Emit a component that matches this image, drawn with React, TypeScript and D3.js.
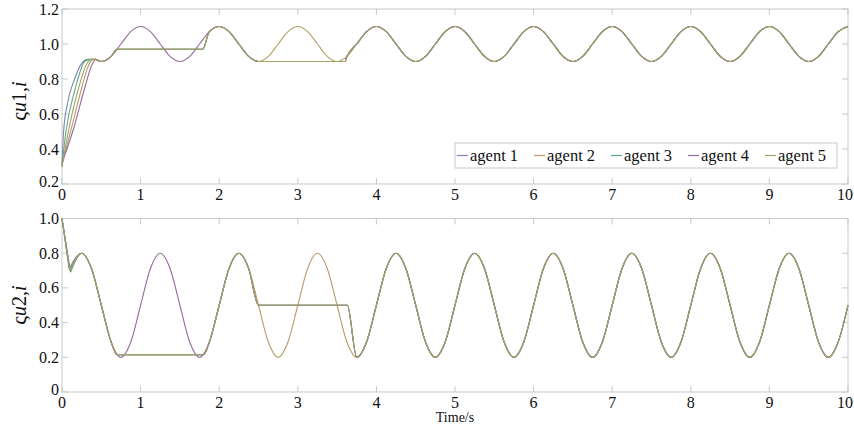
import React from 'react';
import * as d3 from 'd3';

const W = 854;
const H = 430;

const AGENTS = ['agent 1', 'agent 2', 'agent 3', 'agent 4', 'agent 5'];
const COLORS = ['#7c88ad', '#b89d68', '#5fa98c', '#96699f', '#a5a263'];

// Steady-state tracking signals, sampled every WAVE_STEP seconds from t = 0 to t = 10
const WAVE_STEP = 0.125;
const U1_WAVE = [
  1.1, 1.071, 1.0, 0.929, 0.9, 0.929, 1.0, 1.071,
  1.1, 1.071, 1.0, 0.929, 0.9, 0.929, 1.0, 1.071,
  1.1, 1.071, 1.0, 0.929, 0.9, 0.929, 1.0, 1.071,
  1.1, 1.071, 1.0, 0.929, 0.9, 0.929, 1.0, 1.071,
  1.1, 1.071, 1.0, 0.929, 0.9, 0.929, 1.0, 1.071,
  1.1, 1.071, 1.0, 0.929, 0.9, 0.929, 1.0, 1.071,
  1.1, 1.071, 1.0, 0.929, 0.9, 0.929, 1.0, 1.071,
  1.1, 1.071, 1.0, 0.929, 0.9, 0.929, 1.0, 1.071,
  1.1, 1.071, 1.0, 0.929, 0.9, 0.929, 1.0, 1.071,
  1.1, 1.071, 1.0, 0.929, 0.9, 0.929, 1.0, 1.071,
  1.1,
];
const U2_WAVE = [
  0.5, 0.712, 0.8, 0.712, 0.5, 0.288, 0.2, 0.288,
  0.5, 0.712, 0.8, 0.712, 0.5, 0.288, 0.2, 0.288,
  0.5, 0.712, 0.8, 0.712, 0.5, 0.288, 0.2, 0.288,
  0.5, 0.712, 0.8, 0.712, 0.5, 0.288, 0.2, 0.288,
  0.5, 0.712, 0.8, 0.712, 0.5, 0.288, 0.2, 0.288,
  0.5, 0.712, 0.8, 0.712, 0.5, 0.288, 0.2, 0.288,
  0.5, 0.712, 0.8, 0.712, 0.5, 0.288, 0.2, 0.288,
  0.5, 0.712, 0.8, 0.712, 0.5, 0.288, 0.2, 0.288,
  0.5, 0.712, 0.8, 0.712, 0.5, 0.288, 0.2, 0.288,
  0.5, 0.712, 0.8, 0.712, 0.5, 0.288, 0.2, 0.288,
  0.5,
];

// Initial transients of each agent, [t, value]
const U1_HEAD: [number, number][][] = [
  [[0, 0.3], [0.02, 0.5], [0.07, 0.66], [0.16, 0.8], [0.27, 0.9], [0.33, 0.912], [0.42, 0.912]],
  [[0, 0.31], [0.12, 0.52], [0.24, 0.73], [0.34, 0.88], [0.4, 0.912], [0.42, 0.912]],
  [[0, 0.3], [0.05, 0.5], [0.16, 0.73], [0.29, 0.9], [0.36, 0.912], [0.42, 0.912]],
  [[0, 0.32], [0.15, 0.52], [0.29, 0.75], [0.38, 0.88], [0.43, 0.912]],
  [[0, 0.3], [0.09, 0.52], [0.2, 0.73], [0.32, 0.89], [0.38, 0.912], [0.42, 0.912]],
];
const U1_WAVE_FROM = 0.5;

const U2_HEAD: [number, number][][] = [
  [[0, 1.0], [0.09, 0.71]],
  [[0, 1.0], [0.1, 0.7]],
  [[0, 1.0], [0.11, 0.69]],
  [[0, 1.0], [0.1, 0.7]],
  [[0, 1.0], [0.1, 0.7]],
];
const U2_WAVE_FROM = 0.2;

// Hold intervals: [start, end, held value]
const U1_HOLDS: [number, number, number][] = [[0.7, 1.79, 0.97], [2.5, 3.6, 0.9]];
const U2_HOLDS: [number, number, number][] = [[0.7, 1.8, 0.215], [2.5, 3.63, 0.5]];
// Agent that keeps tracking the signal during each hold interval
const HOLD_LEADERS = [3, 1];

const U1_TICKS = [0.2, 0.4, 0.6, 0.8, 1.0, 1.2];
const U2_TICKS = [0, 0.2, 0.4, 0.6, 0.8, 1.0];
const T_TICKS = [0, 1, 2, 3, 4, 5, 6, 7, 8, 9, 10];

const FONT = "'Liberation Serif', Tinos, 'Times New Roman', 'DejaVu Serif', serif";
const AXIS_GRAY = '#c9c9c9';

function buildSeries(
  wave: number[],
  head: [number, number][],
  waveFrom: number,
  holds: [number, number, number][],
  agent: number
): [number, number][] {
  const own = holds.filter((_, k) => HOLD_LEADERS[k] !== agent);
  const pts: [number, number][] = [];
  wave.forEach((v, i) => {
    const t = i * WAVE_STEP;
    if (t < waveFrom) return;
    for (const [t0, t1] of own) {
      if (t >= t0 - 1e-9 && t <= t1 + 0.01) return;
    }
    pts.push([t, v]);
  });
  own.forEach(([t0, t1, v]) => {
    pts.push([t0, v], [t1, v]);
  });
  pts.sort((a, b) => a[0] - b[0]);
  return pts;
}

const X0 = 62;
const X1 = 848;

interface PanelProps {
  top: number;
  bottom: number;
  domain: [number, number];
  yTicks: number[];
  fmt: (v: number) => string;
  heads: [number, number][][];
  tails: [number, number][][];
  sharpHead: boolean;
  label: string;
  labelY: number;
}

function Panel({ top, bottom, domain, yTicks, fmt, heads, tails, sharpHead, label, labelY }: PanelProps) {
  const x = d3.scaleLinear().domain([0, 10]).range([X0, X1]);
  const y = d3.scaleLinear().domain(domain).range([bottom, top]);
  const smooth = d3
    .line<[number, number]>()
    .x((d) => x(d[0]))
    .y((d) => y(d[1]))
    .curve(d3.curveMonotoneX);
  const straight = d3
    .line<[number, number]>()
    .x((d) => x(d[0]))
    .y((d) => y(d[1]));
  const tl = 6;
  return (
    <g style={{ fontFamily: FONT }}>
      <rect x={X0} y={top} width={X1 - X0} height={bottom - top} fill="none" stroke={AXIS_GRAY} strokeWidth={1} />
      {T_TICKS.map((t) => (
        <g key={'xt' + t}>
          <line x1={x(t)} x2={x(t)} y1={bottom} y2={bottom - tl} stroke={AXIS_GRAY} />
          <line x1={x(t)} x2={x(t)} y1={top} y2={top + tl} stroke={AXIS_GRAY} />
          <text
            x={t === 10 ? 853 : x(t)}
            y={bottom + 16}
            textAnchor={t === 10 ? 'end' : 'middle'}
            fontSize={16}
            fill="#111"
          >
            {t}
          </text>
        </g>
      ))}
      {yTicks.map((v) => (
        <g key={'yt' + v}>
          <line x1={X0} x2={X0 + tl} y1={y(v)} y2={y(v)} stroke={AXIS_GRAY} />
          <line x1={X1} x2={X1 - tl} y1={y(v)} y2={y(v)} stroke={AXIS_GRAY} />
          <text
            x={X0 - 3}
            y={y(v) + 5.5 - (v === domain[0] ? 3 : 0)}
            textAnchor="end"
            fontSize={16}
            fill="#111"
          >
            {fmt(v)}
          </text>
        </g>
      ))}
      <g>
        {tails.map((tail, i) => {
          const head = heads[i];
          if (sharpHead) {
            const d1 = straight(head) || '';
            const d2 = smooth([head[head.length - 1], ...tail]) || '';
            return <path key={i} d={d1 + d2} fill="none" stroke={COLORS[i]} strokeWidth={1.1} />;
          }
          return <path key={i} d={smooth([...head, ...tail]) || ''} fill="none" stroke={COLORS[i]} strokeWidth={1.1} />;
        })}
      </g>
      <text transform={`translate(26, ${labelY}) rotate(-90)`} textAnchor="middle" fill="#111" fontSize={20}>
        <tspan fontSize={22}>ς</tspan>
        <tspan fontStyle="italic">u</tspan>
        <tspan>{label}</tspan>
        <tspan fontStyle="italic">i</tspan>
      </text>
    </g>
  );
}

function Legend() {
  const left = 455;
  const top = 143;
  const w = 382;
  const h = 25;
  const step = 77;
  return (
    <g style={{ fontFamily: FONT }}>
      <rect x={left} y={top} width={w} height={h} fill="#fff" stroke={AXIS_GRAY} strokeWidth={1} />
      {AGENTS.map((a, i) => {
        const lx = left + 2 + i * step;
        return (
          <g key={a}>
            <line x1={lx} x2={lx + 11} y1={top + h / 2} y2={top + h / 2} stroke={COLORS[i]} strokeWidth={1.2} />
            <text x={lx + 13} y={top + h / 2 + 5.5} fontSize={16.5} fill="#111">
              {a}
            </text>
          </g>
        );
      })}
    </g>
  );
}

export default function App() {
  const u1 = AGENTS.map((_, i) => buildSeries(U1_WAVE, U1_HEAD[i], U1_WAVE_FROM, U1_HOLDS, i));
  const u2 = AGENTS.map((_, i) => buildSeries(U2_WAVE, U2_HEAD[i], U2_WAVE_FROM, U2_HOLDS, i));
  return (
    <svg
      width={W}
      height={H}
      viewBox={`0 0 ${W} ${H}`}
      style={{ position: 'absolute', left: 0, top: 0, background: '#fff' }}
    >
      <rect x={0} y={0} width={W} height={H} fill="#fff" />
      <Panel
        top={9}
        bottom={184}
        domain={[0.2, 1.2]}
        yTicks={U1_TICKS}
        fmt={(v) => v.toFixed(1)}
        heads={U1_HEAD}
        tails={u1}
        sharpHead={false}
        label="1,"
        labelY={101}
      />
      <Legend />
      <Panel
        top={218.5}
        bottom={392}
        domain={[0, 1.0]}
        yTicks={U2_TICKS}
        fmt={(v) => (v === 0 ? '0' : v.toFixed(1))}
        heads={U2_HEAD}
        tails={u2}
        sharpHead={true}
        label="2,"
        labelY={305}
      />
      <text x={455} y={422} textAnchor="middle" fontSize={14} fill="#111" style={{ fontFamily: FONT }}>
        Time/s
      </text>
    </svg>
  );
}
